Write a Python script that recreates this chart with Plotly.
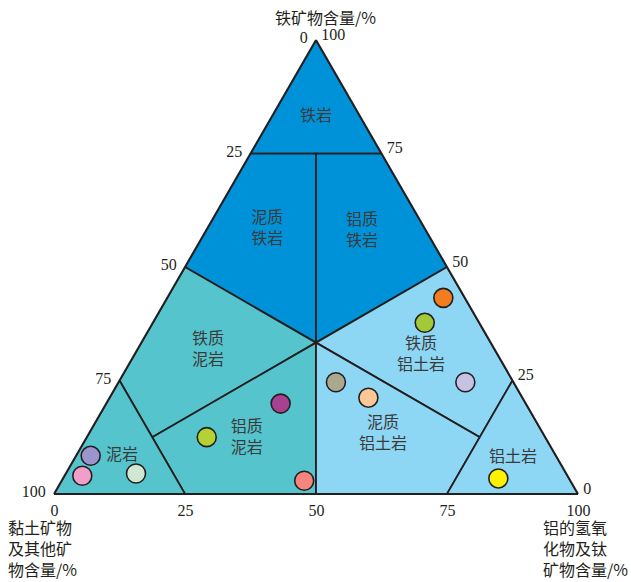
import plotly.graph_objects as go

# Sample compositions (%): iron minerals, clay & other minerals, Al hydroxide & Ti minerals
iron = [43.2, 37.7, 24.6, 24.6, 21.2, 19.9, 12.5, 2.9, 8.4, 4.0, 4.5, 3.4]
clay = [4.1, 10.4, 9.2, 33.9, 29.4, 46.8, 64.6, 50.8, 88.8, 92.6, 82.1, 13.5]
alum = [52.7, 51.9, 66.2, 41.5, 49.4, 33.3, 22.9, 46.3, 2.8, 3.4, 13.4, 83.1]
sample_colors = ["#f47c20", "#a3c93a", "#c6c2e1", "#aaa88f", "#fdc896", "#a8418f",
                 "#b5d235", "#f5857d", "#9c94cc", "#f19fca", "#cfe7d3", "#fff200"]

# Classification fields: vertices as (iron, clay, alum)
C3 = 100 / 3
field_names = ["铁岩", "泥质铁岩", "铝质铁岩", "铁质泥岩", "铝质泥岩", "泥岩",
               "铁质铝土岩", "泥质铝土岩", "铝土岩"]
field_vertices = [
    [(100, 0, 0), (75, 25, 0), (75, 0, 25)],
    [(75, 25, 0), (75, 12.5, 12.5), (C3, C3, C3), (50, 50, 0)],
    [(75, 12.5, 12.5), (75, 0, 25), (50, 0, 50), (C3, C3, C3)],
    [(50, 50, 0), (C3, C3, C3), (12.5, 75, 12.5), (25, 75, 0)],
    [(12.5, 75, 12.5), (C3, C3, C3), (0, 50, 50), (0, 75, 25)],
    [(25, 75, 0), (0, 100, 0), (0, 75, 25)],
    [(50, 0, 50), (C3, C3, C3), (12.5, 12.5, 75), (25, 0, 75)],
    [(C3, C3, C3), (0, 50, 50), (0, 25, 75), (12.5, 12.5, 75)],
    [(25, 0, 75), (0, 0, 100), (0, 25, 75)],
]
field_colors = ["#0092d8", "#0092d8", "#0092d8", "#55c4cc", "#55c4cc", "#55c4cc",
                "#8dd6f4", "#8dd6f4", "#8dd6f4"]

# Field labels and their anchor compositions
label_text = ["铁岩", "泥质<br>铁岩", "铝质<br>铁岩", "铁质<br>泥岩", "铝质<br>泥岩", "泥岩",
              "铁质<br>铝土岩", "泥质<br>铝土岩", "铝土岩"]
label_iron = [83.1, 58.2, 57.8, 31.6, 12.2, 8.4, 30.5, 13.0, 7.8]
label_clay = [8.45, 30.2, 12.3, 54.8, 57.1, 82.8, 14.7, 30.7, 8.5]
label_alum = [8.45, 11.6, 29.9, 13.6, 30.7, 8.8, 54.8, 56.3, 83.7]

tick_vals = [0, 25, 50, 75, 100]
tick_text = ["100", "75", "50", "25", "0"]

LINE = "#231f20"
SERIF = "Liberation Serif, Noto Sans CJK SC, serif"
CJK = "Noto Sans CJK SC, sans-serif"

fig = go.Figure()

for name, verts, col in zip(field_names, field_vertices, field_colors):
    pts = verts + [verts[0]]
    fig.add_trace(go.Scatterternary(
        a=[p[0] for p in pts], b=[p[1] for p in pts], c=[p[2] for p in pts],
        mode="lines", fill="toself", fillcolor=col,
        line=dict(color=LINE, width=1.8), name=name,
        hoverinfo="skip", showlegend=False, cliponaxis=False,
    ))

fig.add_trace(go.Scatterternary(
    a=label_iron, b=label_clay, c=label_alum, mode="text", text=label_text,
    textposition="middle center",
    textfont=dict(family=CJK, size=16, color="#3a3a3a"),
    hoverinfo="skip", showlegend=False, cliponaxis=False,
))

fig.add_trace(go.Scatterternary(
    a=iron, b=clay, c=alum, mode="markers",
    marker=dict(size=19, color=sample_colors, line=dict(color=LINE, width=1.6)),
    showlegend=False, cliponaxis=False,
))


def axis(ticklen):
    return dict(
        tickmode="array", tickvals=tick_vals, ticktext=tick_text,
        showgrid=False, linecolor=LINE, linewidth=2,
        ticks="outside", ticklen=ticklen, tickcolor="rgba(0,0,0,0)",
        tickfont=dict(family=SERIF, size=16, color=LINE), title=dict(text=""),
    )


W, H = 631, 582
ML, MR, MT, MB = 54, 53, 40, 88


def px(x, y):
    return (x - ML) / (W - ML - MR), (H - MB - y) / (H - MT - MB)


fig.update_layout(
    width=W, height=H,
    margin=dict(l=ML, r=MR, t=MT, b=MB),
    paper_bgcolor="white",
    ternary=dict(sum=100, bgcolor="white",
                 aaxis=axis(5), baxis=axis(1), caxis=axis(4)),
    font=dict(family=SERIF, color=LINE),
)

# Axis titles
titles = [
    ("铁矿物含量/%", 325, 17, "center", "middle"),
    ("黏土矿物<br>及其他矿<br>物含量/%", 7, 582, "left", "bottom"),
    ("铝的氢氧<br>化物及钛<br>矿物含量/%", 542, 582, "left", "bottom"),
]
for text, x, y, xa, ya in titles:
    xp, yp = px(x, y)
    fig.add_annotation(text=text, x=xp, y=yp, xref="paper", yref="paper",
                       xanchor=xa, yanchor=ya, align="left", showarrow=False,
                       borderpad=0, font=dict(family=CJK, size=16, color=LINE))

fig.write_html("out.html")
